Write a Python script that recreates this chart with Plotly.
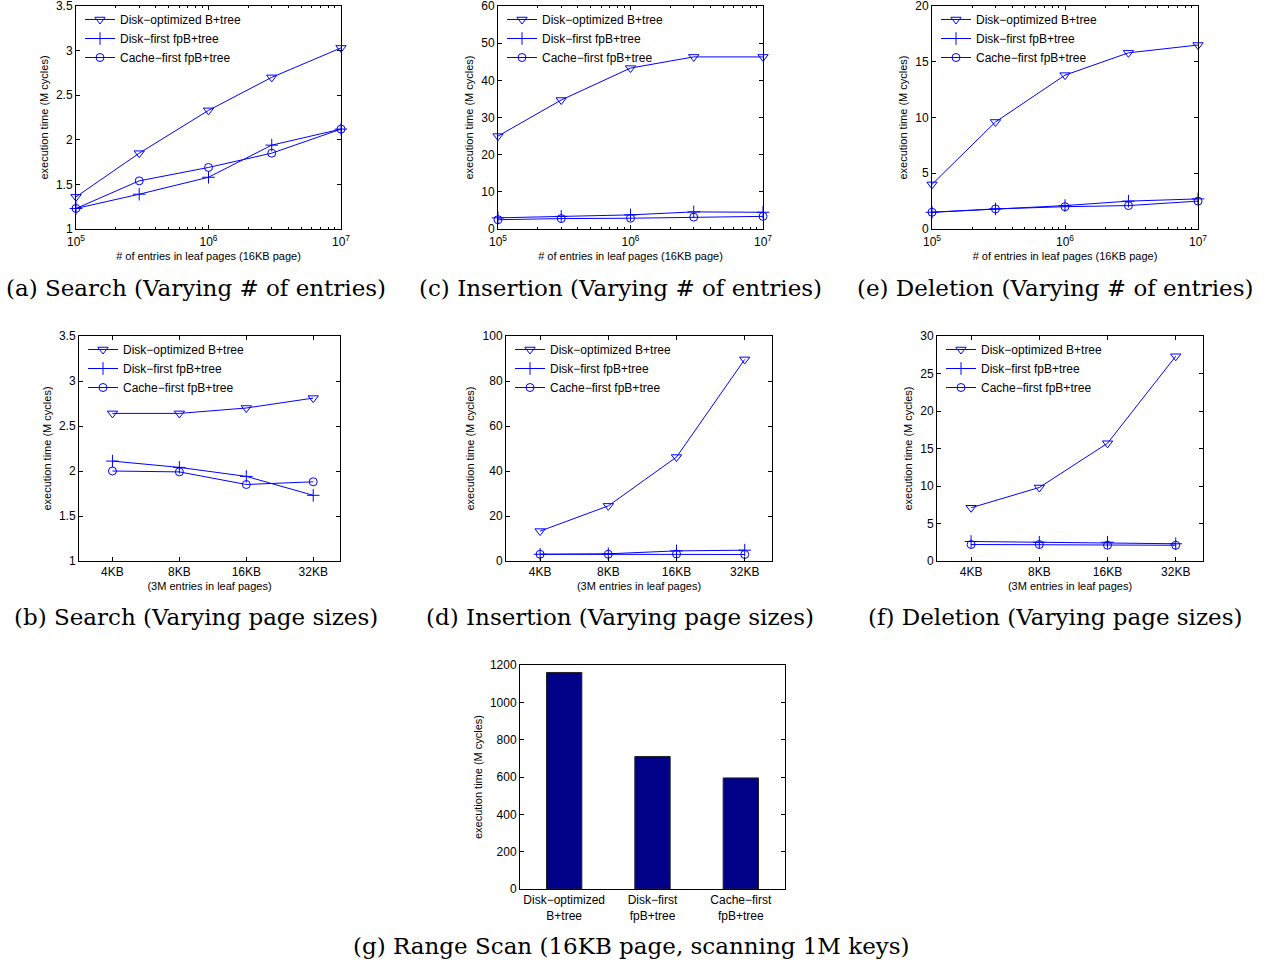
import plotly.graph_objects as go

# ---------------- data ----------------
series_names = ["Disk\u2212optimized B+tree", "Disk\u2212first fpB+tree", "Cache\u2212first fpB+tree"]

entries = [1e5, 3e5, 1e6, 3e6, 1e7]
page_sizes = ["4KB", "8KB", "16KB", "32KB"]

search_entries_opt = [1.36, 1.85, 2.33, 2.70, 3.03]
search_entries_disk = [1.23, 1.39, 1.58, 1.94, 2.12]
search_entries_cache = [1.23, 1.54, 1.69, 1.85, 2.12]

insert_entries_opt = [25.0, 34.7, 43.3, 46.3, 46.3]
insert_entries_disk = [3.0, 3.4, 3.8, 4.6, 4.5]
insert_entries_cache = [2.5, 2.8, 2.9, 3.2, 3.4]

delete_entries_opt = [4.0, 9.6, 13.8, 15.8, 16.5]
delete_entries_disk = [1.5, 1.8, 2.1, 2.5, 2.7]
delete_entries_cache = [1.5, 1.8, 2.0, 2.1, 2.5]

search_pages_opt = [2.64, 2.64, 2.70, 2.81]
search_pages_disk = [2.11, 2.04, 1.94, 1.73]
search_pages_cache = [2.00, 1.99, 1.85, 1.88]

insert_pages_opt = [13.3, 24.5, 46.2, 89.6]
insert_pages_disk = [3.0, 3.2, 4.5, 4.8]
insert_pages_cache = [3.0, 3.0, 3.1, 2.9]

delete_pages_opt = [7.1, 9.8, 15.7, 27.3]
delete_pages_disk = [2.6, 2.5, 2.5, 2.3]
delete_pages_cache = [2.2, 2.2, 2.1, 2.1]

scan_labels = ["Disk\u2212optimized<br>B+tree", "Disk\u2212first<br>fpB+tree", "Cache\u2212first<br>fpB+tree"]
scan_values = [1160, 710, 595]

captions = [
    "(a) Search (Varying # of entries)",
    "(c) Insertion (Varying # of entries)",
    "(e) Deletion (Varying # of entries)",
    "(b) Search (Varying page sizes)",
    "(d) Insertion (Varying page sizes)",
    "(f) Deletion (Varying page sizes)",
    "(g) Range Scan (16KB page, scanning 1M keys)",
]

# ---------------- layout geometry (pixels) ----------------
W, H = 1264, 966
def xd(a, b):
    return [a / W, b / W]
def yd(top, bot):
    return [1 - bot / H, 1 - top / H]

BLUE = "#0000ff"
SANS = "Liberation Sans, Arial, sans-serif"
SERIF = "DejaVu Serif, serif"
symbols = ["triangle-down-open", "cross-thin-open", "circle-open"]
msizes = [9, 9, 8]

panels = [
    dict(x=(76, 341), y=(6, 229), xs=entries, ys=[search_entries_opt, search_entries_disk, search_entries_cache], yr=[1, 3.5], dt=0.5, log=True, cap=(196, 288)),
    dict(x=(498, 763), y=(6, 229), xs=entries, ys=[insert_entries_opt, insert_entries_disk, insert_entries_cache], yr=[0, 60], dt=10, log=True, cap=(620, 288)),
    dict(x=(932, 1198), y=(6, 229), xs=entries, ys=[delete_entries_opt, delete_entries_disk, delete_entries_cache], yr=[0, 20], dt=5, log=True, cap=(1055, 288)),
    dict(x=(79, 340), y=(336, 561), xs=page_sizes, ys=[search_pages_opt, search_pages_disk, search_pages_cache], yr=[1, 3.5], dt=0.5, log=False, cap=(196, 617)),
    dict(x=(506, 772), y=(336, 561), xs=page_sizes, ys=[insert_pages_opt, insert_pages_disk, insert_pages_cache], yr=[0, 100], dt=20, log=False, cap=(620, 617)),
    dict(x=(937, 1203), y=(336, 561), xs=page_sizes, ys=[delete_pages_opt, delete_pages_disk, delete_pages_cache], yr=[0, 30], dt=5, log=False, cap=(1055, 617)),
]

fig = go.Figure()
layout = {}
annotations = []

axis_common = dict(
    showline=True, linecolor="black", linewidth=1, mirror="ticks",
    ticks="inside", ticklen=4, tickcolor="black", showgrid=False, zeroline=False,
    tickfont=dict(family=SANS, size=12, color="black"), automargin=False,
    ticklabeloverflow="allow",
)

minor_log = [m * 10 ** e for e in (5, 6) for m in range(2, 10)]

for i, p in enumerate(panels):
    k = i + 1
    xa = "x" if k == 1 else f"x{k}"
    ya = "y" if k == 1 else f"y{k}"
    lg = "legend" if k == 1 else f"legend{k}"
    xname = "xaxis" if k == 1 else f"xaxis{k}"
    yname = "yaxis" if k == 1 else f"yaxis{k}"

    if p["log"]:
        xvals = p["xs"]
    else:
        xvals = list(range(1, len(p["xs"]) + 1))

    for s in range(3):
        fig.add_trace(go.Scatter(
            x=xvals, y=p["ys"][s], mode="lines+markers", name=series_names[s],
            line=dict(color=BLUE, width=1), cliponaxis=False,
            marker=dict(symbol=symbols[s], size=msizes[s], color=BLUE, line=dict(color=BLUE, width=1)),
            xaxis=xa, yaxis=ya, legend=lg, showlegend=True,
        ))

    if p["log"]:
        xaxis = dict(axis_common, type="log", domain=xd(*p["x"]), range=[5, 7], anchor=ya,
                     tickvals=[1e5, 1e6, 1e7], ticktext=["10<sup>5</sup>", "10<sup>6</sup>", "10<sup>7</sup>"],
                     ticklabelstandoff=2,
                     minor=dict(ticks="inside", ticklen=2, tickcolor="black", tickvals=minor_log),
                     title=dict(text="# of entries in leaf pages (16KB page)", font=dict(family=SANS, size=11, color="black"), standoff=3))
    else:
        xaxis = dict(axis_common, domain=xd(*p["x"]), range=[0.5, 4.4], anchor=ya,
                     tickvals=xvals, ticktext=p["xs"],
                     title=dict(text="(3M entries in leaf pages)", font=dict(family=SANS, size=11, color="black"), standoff=3))
    yaxis = dict(axis_common, domain=yd(*p["y"]), range=p["yr"], dtick=p["dt"], tick0=p["yr"][0], anchor=xa,
                 title=dict(text="execution time (M cycles)", font=dict(family=SANS, size=11, color="black"), standoff=5))
    layout[xname] = xaxis
    layout[yname] = yaxis

    lx0 = (p["x"][0] + 4) / W
    ly0 = 1 - (p["y"][0] - 1) / H
    layout[lg] = dict(x=lx0, y=ly0, xanchor="left", yanchor="top", xref="paper", yref="paper",
                      bgcolor="rgba(255,255,255,0)", borderwidth=0, itemwidth=30,
                      font=dict(family=SANS, size=12, color="black"), tracegroupgap=0)

    annotations.append(dict(text=captions[i], x=p["cap"][0] / W, y=1 - p["cap"][1] / H, xref="paper", yref="paper",
                            xanchor="center", yanchor="middle", showarrow=False,
                            font=dict(family=SERIF, size=23, color="black")))

# bar panel (g)
fig.add_trace(go.Bar(
    x=[1, 2, 3], y=scan_values, width=0.4, marker=dict(color="#000088", line=dict(color="#222222", width=1)),
    xaxis="x7", yaxis="y7", showlegend=False,
))
layout["xaxis7"] = dict(axis_common, domain=xd(520, 785), range=[0.5, 3.5], anchor="y7",
                        tickvals=[1, 2, 3], ticktext=scan_labels, ticks="",
                        tickfont=dict(family=SANS, size=12, color="black"))
layout["yaxis7"] = dict(axis_common, domain=yd(665, 889), range=[0, 1200], dtick=200, anchor="x7",
                        title=dict(text="execution time (M cycles)", font=dict(family=SANS, size=11, color="black"), standoff=5))
annotations.append(dict(text=captions[6], x=631 / W, y=1 - 946 / H, xref="paper", yref="paper",
                        xanchor="center", yanchor="middle", showarrow=False,
                        font=dict(family=SERIF, size=23, color="black")))

fig.update_layout(
    width=W, height=H,
    margin=dict(l=0, r=0, t=0, b=0),
    paper_bgcolor="white", plot_bgcolor="white",
    annotations=annotations,
    **layout,
)

fig.write_html("out.html", config={"displayModeBar": False},
               post_script="document.body.style.margin='0';document.body.style.overflow='hidden';")
